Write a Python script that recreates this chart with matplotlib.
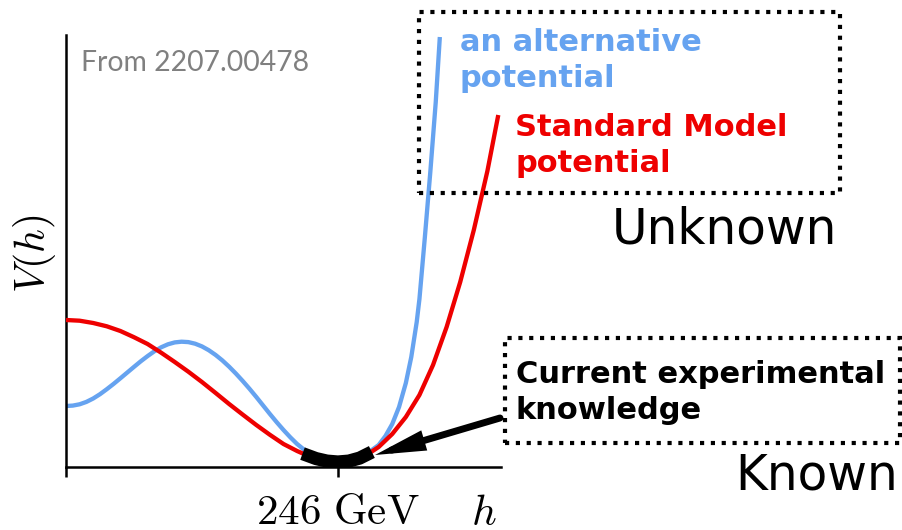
import matplotlib
matplotlib.use("Agg")
import matplotlib.pyplot as plt
from matplotlib.patches import Rectangle

plt.rcParams['mathtext.fontset'] = 'cm'

W, H = 902, 530

# h in units of the vev (246 GeV), V(h) in arbitrary units
sm_h = [0.0, 0.05, 0.1, 0.15, 0.2, 0.25, 0.3, 0.35, 0.4, 0.45, 0.5, 0.55, 0.6, 0.65,
        0.7, 0.75, 0.8, 0.85, 0.9, 0.95, 1.0, 1.05, 1.1, 1.15, 1.2, 1.25, 1.3, 1.35,
        1.4, 1.45, 1.5, 1.55, 1.59]
sm_V = [1.47, 1.463, 1.44, 1.407, 1.36, 1.298, 1.23, 1.143, 1.05, 0.953, 0.85, 0.741,
        0.63, 0.524, 0.42, 0.322, 0.23, 0.16, 0.10, 0.064, 0.05, 0.065, 0.11, 0.20,
        0.33, 0.50, 0.72, 1.02, 1.40, 1.85, 2.37, 2.96, 3.52]

alt_h = [0.0, 0.025, 0.05, 0.075, 0.1, 0.125, 0.15, 0.175, 0.2, 0.225, 0.25, 0.275,
         0.3, 0.325, 0.35, 0.375, 0.4, 0.425, 0.45, 0.475, 0.5, 0.525, 0.55, 0.575,
         0.6, 0.625, 0.65, 0.675, 0.7, 0.725, 0.75, 0.775, 0.8, 0.825, 0.85, 0.875,
         0.9, 0.925, 0.95, 0.975, 1.0, 1.025, 1.05, 1.075, 1.1, 1.125, 1.15, 1.175,
         1.2, 1.225, 1.25, 1.27, 1.29, 1.30, 1.32, 1.34, 1.36, 1.375]
alt_V = [0.61, 0.614, 0.627, 0.651, 0.685, 0.728, 0.778, 0.831, 0.887, 0.944, 1.001,
         1.057, 1.109, 1.157, 1.197, 1.227, 1.246, 1.253, 1.249, 1.233, 1.206, 1.168,
         1.121, 1.066, 1.003, 0.934, 0.860, 0.782, 0.700, 0.615, 0.53, 0.448, 0.37,
         0.297, 0.23, 0.175, 0.13, 0.095, 0.07, 0.055, 0.05, 0.054, 0.068, 0.093,
         0.13, 0.17, 0.22, 0.31, 0.43, 0.60, 0.84, 1.10, 1.45, 1.68, 2.30, 2.95,
         3.65, 4.30]

# measured region around the minimum
known_h = [0.87, 0.92, 0.96, 1.0, 1.04, 1.08, 1.125]
known_V = [0.134, 0.084, 0.059, 0.05, 0.059, 0.089, 0.15]

BLUE = '#66a3f0'
RED = '#ee0000'


def px(x, y):
    # pixel position in the picture -> figure fraction
    return x / W, 1 - y / H


fig = plt.figure(figsize=(W / 100, H / 100), dpi=100)
ax = fig.add_axes([66 / W, 63 / H, 435 / W, 432 / H])

ax.plot(alt_h, alt_V, color=BLUE, lw=3.1, solid_capstyle='butt',
        solid_joinstyle='round', zorder=2)
ax.plot(sm_h, sm_V, color=RED, lw=3.1, solid_capstyle='butt',
        solid_joinstyle='round', zorder=3)
ax.plot(known_h, known_V, color='black', lw=9.5, solid_capstyle='butt', zorder=4)

ax.set_xlim(0, 1.6)
ax.set_ylim(0, 4.32)
for s in ['top', 'right']:
    ax.spines[s].set_visible(False)
for s in ['left', 'bottom']:
    ax.spines[s].set_linewidth(1.8)
ax.set_yticks([])
ax.set_xticks([0, 1])
ax.set_xticklabels(['', r'$246\ \mathrm{GeV}$'], fontsize=31)
ax.tick_params(axis='x', length=7, width=1.8, pad=10)

ax.annotate('', xy=px(375, 455), xycoords='figure fraction',
            xytext=px(500, 418), textcoords='figure fraction',
            arrowprops=dict(arrowstyle='-|>,head_length=22,head_width=4.5',
                            mutation_scale=1, lw=5, color='black',
                            shrinkA=0, shrinkB=0, joinstyle='miter'),
            annotation_clip=False, zorder=5)

fig.text(*px(35, 254), r'$V(h)$', fontsize=30, rotation=90, ha='center', va='center')
fig.text(*px(484, 525), r'$h$', fontsize=31, ha='center', va='baseline')

fig.text(*px(81, 71), 'From 2207.00478', fontsize=20.4, family='Lato',
         color='#808080', va='baseline')

fig.text(*px(460, 87), 'an alternative\npotential', fontsize=22, fontweight='bold',
         color=BLUE, va='baseline', linespacing=1.31)
fig.text(*px(515, 172), 'Standard Model\npotential', fontsize=22, fontweight='bold',
         color=RED, va='baseline', linespacing=1.31)
fig.text(*px(516, 419), 'Current experimental\nknowledge', fontsize=22,
         fontweight='bold', color='black', va='baseline', linespacing=1.31)

fig.text(*px(837, 244), 'Unknown', fontsize=35, ha='right', va='baseline')
fig.text(*px(898, 490), 'Known', fontsize=35, ha='right', va='baseline')

dots = (0, (1, 1.6))
for (x0, y0, x1, y1) in [(419, 12, 840, 193), (505, 338, 900, 443)]:
    fig.patches.append(Rectangle(px(x0, y1), (x1 - x0) / W, (y1 - y0) / H,
                                 fill=False, lw=3, ls=dots, ec='black',
                                 transform=fig.transFigure, clip_on=False))

fig.savefig('out.png', dpi=100)
